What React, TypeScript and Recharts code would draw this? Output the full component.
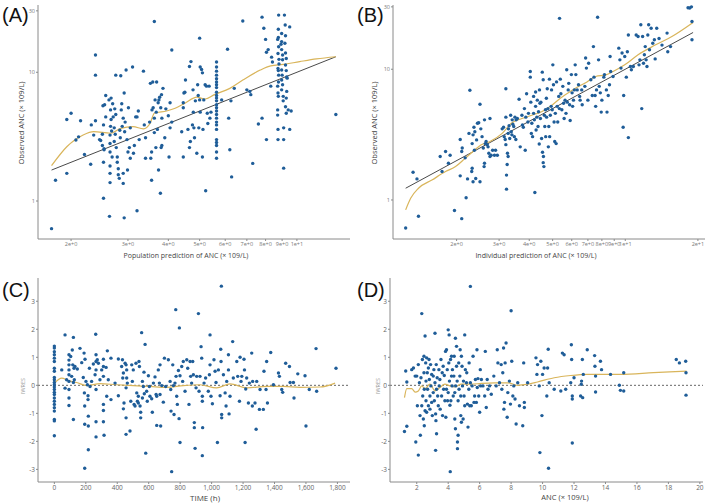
import React from "react";
import { ComposedChart, Scatter, Line, XAxis, YAxis, ReferenceLine } from "recharts";

// (A) population prediction vs observed ANC
const pointsA: [number, number][] = [
  [1.74, 0.61], [1.79, 1.45], [1.94, 1.64], [1.94, 4.3], [2.0, 4.8], [2.07, 2.98], [2.11, 3.15], [2.14, 4.2],
  [2.2, 2.3], [2.3, 1.93], [2.31, 3.9], [2.35, 3.25], [2.38, 4.2], [2.38, 13.6], [2.38, 9.5], [2.45, 3.0],
  [2.47, 2.95], [2.5, 3.3], [2.5, 2.7], [2.52, 2.0], [2.52, 3.9], [2.51, 5.5], [2.54, 5.6], [2.52, 1.05],
  [2.53, 2.5], [2.56, 6.6], [2.56, 4.5], [2.53, 2.55], [2.62, 6.1], [2.63, 0.76], [2.64, 1.87], [2.64, 1.64],
  [2.64, 1.39], [2.64, 3.25], [2.64, 2.8], [2.64, 2.4], [2.65, 3.8], [2.65, 5.1], [2.66, 6.3], [2.66, 4.3],
  [2.67, 3.5], [2.68, 2.2], [2.69, 5.7], [2.7, 4.5], [2.72, 3.7], [2.72, 2.9], [2.73, 5.2], [2.74, 3.3],
  [2.75, 9.5], [2.75, 4.7], [2.76, 2.6], [2.78, 2.2], [2.78, 2.0], [2.8, 1.78], [2.8, 1.6], [2.82, 1.5],
  [2.83, 3.55], [2.84, 3.1], [2.85, 9.4], [2.86, 5.1], [2.87, 5.7], [2.88, 3.8], [2.9, 4.4], [2.9, 1.64],
  [2.9, 1.37], [2.92, 0.74], [2.92, 6.9], [2.93, 3.45], [2.94, 4.1], [2.96, 10.4], [2.98, 3.0], [2.99, 1.74],
  [3.0, 2.4], [3.01, 5.3], [3.03, 2.6], [3.05, 2.15], [3.05, 3.7], [3.1, 11.0], [3.12, 2.35], [3.14, 2.7],
  [3.17, 4.5], [3.2, 4.5], [3.2, 0.84], [3.23, 5.0], [3.25, 3.0], [3.35, 10.2], [3.37, 3.9], [3.4, 3.1],
  [3.4, 2.15], [3.5, 4.1], [3.52, 8.2], [3.53, 2.15], [3.55, 1.45], [3.55, 2.4], [3.56, 5.1], [3.58, 8.4],
  [3.59, 5.3], [3.62, 24.8], [3.62, 4.4], [3.62, 3.4], [3.64, 6.1], [3.66, 2.6], [3.67, 4.9], [3.68, 8.4],
  [3.7, 3.6], [3.72, 5.8], [3.73, 1.74], [3.74, 6.1], [3.76, 6.4], [3.78, 1.15], [3.79, 5.3], [3.8, 2.6],
  [3.81, 6.7], [3.82, 2.7], [3.82, 4.4], [3.85, 7.5], [3.9, 3.1], [3.93, 5.2], [4.0, 4.6], [4.02, 2.2],
  [4.05, 5.8], [4.05, 3.7], [4.1, 14.9], [4.1, 4.1], [4.4, 3.45], [4.45, 5.8], [4.45, 2.2], [4.45, 5.3],
  [4.47, 6.9], [4.5, 7.0], [4.52, 8.7], [4.6, 3.6], [4.65, 2.6], [4.65, 11.1], [4.7, 12.1], [4.68, 2.9],
  [4.75, 3.9], [4.77, 7.3], [4.78, 4.9], [4.8, 3.7], [4.82, 3.1], [4.85, 6.0], [4.9, 2.35], [4.93, 8.0],
  [4.95, 6.6], [4.97, 3.7], [5.0, 18.4], [5.0, 6.1], [5.02, 11.0], [5.02, 4.9], [5.07, 10.5], [5.1, 9.9],
  [5.1, 2.2], [5.12, 3.6], [5.15, 6.1], [5.2, 8.0], [5.22, 1.2], [5.25, 7.8], [5.28, 4.8], [5.3, 4.0],
  [5.35, 7.8], [5.38, 4.4], [5.42, 4.9],
  [5.64, 12], [5.64, 11.0], [5.64, 10.2], [5.64, 9.5], [5.64, 8.9], [5.64, 8.4], [5.64, 8.0], [5.64, 7.6],
  [5.64, 7.0], [5.64, 6.6], [5.64, 6.3], [5.64, 6.0], [5.64, 5.6], [5.64, 5.3], [5.64, 5.0], [5.64, 4.7],
  [5.64, 4.4], [5.64, 4.1], [5.64, 3.9], [5.64, 3.6], [5.64, 3.0], [5.64, 2.85], [5.64, 2.7], [5.64, 2.4],
  [5.64, 2.15],
  [5.85, 6.1], [6.1, 15.1], [6.15, 4.4], [6.2, 2.5], [6.25, 6.0], [6.28, 1.54], [6.4, 7.5], [6.8, 25],
  [7.0, 7.3], [7.15, 7.1], [7.2, 6.7], [7.3, 1.96], [7.6, 3.96], [7.8, 26.8], [7.8, 4.4], [7.9, 22],
  [8.0, 18], [8.05, 3.0], [8.05, 14.3], [8.15, 15], [8.3, 7.8], [8.35, 13.1], [8.4, 12],
  [8.76, 21.6], [8.76, 18.6], [8.72, 18], [8.78, 15.8], [8.74, 14], [8.8, 12.6], [8.8, 11.6], [8.74, 10.7],
  [8.76, 10.3], [8.78, 9.5], [8.77, 8.4], [8.72, 7.8], [8.74, 6.9], [8.76, 6.5], [8.72, 5.1], [8.72, 4.65],
  [8.74, 3.6], [8.74, 3.0], [8.78, 27.8],
  [8.97, 20], [8.97, 17.3], [8.93, 16.5], [8.97, 15], [9.03, 13.6], [9.03, 12.5], [8.97, 10.4], [9.0, 9.5],
  [8.97, 8.7], [9.03, 8.0], [8.97, 7.3], [9.07, 6.5], [9.07, 6.0], [9.1, 3.7], [9.1, 3.0], [9.1, 1.8],
  [9.15, 27.8], [9.2, 23.3], [9.22, 19.2], [9.18, 16.8], [9.22, 14.1], [9.27, 12.8], [9.22, 11.4], [9.27, 10.3],
  [9.3, 9.2], [9.33, 9.0], [9.3, 7.1], [9.27, 6.3], [9.22, 5.4], [9.27, 4.8],
  [9.4, 5.1], [9.5, 22.5], [9.6, 5.0], [9.5, 3.6], [13.2, 4.7],
];
const smoothA: [number, number][] = [
  [1.74, 1.88], [1.94, 2.64], [2.18, 3.26], [2.35, 3.46], [2.65, 3.36], [2.85, 3.67], [3.11, 3.78],
  [3.35, 3.63], [3.51, 4.0], [3.62, 4.8], [3.95, 5.0], [4.2, 5.25], [4.5, 5.74], [4.9, 6.4], [5.2, 6.2],
  [5.55, 6.7], [6.2, 7.5], [6.8, 8.7], [7.7, 10.4], [8.3, 11.2], [9.07, 11.5], [10.2, 12.1], [11.5, 12.7],
  [13.2, 13.2],
];
const identityA: [number, number][] = [[1.74, 1.74], [13.2, 13.2]];

// (B) individual prediction vs observed ANC
const pointsB: [number, number][] = [
  [1.23, 0.61], [1.32, 1.63], [1.37, 1.45], [1.39, 0.75], [1.71, 2.15], [1.74, 1.65], [1.8, 2.35], [1.85, 1.91],
  [1.88, 2.2], [1.96, 0.83], [2.07, 2.9], [2.07, 1.53], [2.1, 0.72], [2.1, 2.35], [2.11, 2.5], [2.17, 2.1],
  [2.19, 1.04], [2.22, 1.45], [2.25, 3.23], [2.27, 6.9], [2.31, 1.65], [2.32, 2.7], [2.32, 1.75], [2.34, 1.38],
  [2.34, 3.15], [2.36, 3.6], [2.37, 2.4], [2.38, 3.33], [2.4, 1.46], [2.42, 2.88], [2.44, 3.86], [2.47, 3.9],
  [2.5, 5.4], [2.5, 1.38], [2.52, 3.5], [2.55, 3.05], [2.58, 2.5], [2.6, 1.8], [2.61, 1.91], [2.61, 4.1],
  [2.63, 2.7], [2.65, 2.8], [2.68, 2.65], [2.7, 2.55], [2.72, 2.28], [2.75, 4.2], [2.75, 2.15], [2.78, 2.2],
  [2.82, 2.4], [2.87, 2.2], [2.9, 2.4], [2.95, 2.2], [3.09, 3.5], [3.13, 3.6], [3.15, 3.05], [3.18, 2.9],
  [3.2, 7.1], [3.2, 2.65], [3.2, 4.3], [3.22, 1.55], [3.22, 1.21], [3.24, 1.87], [3.25, 2.28], [3.27, 2.15],
  [3.27, 3.23], [3.28, 3.5], [3.3, 3.7], [3.32, 2.95], [3.35, 4.45], [3.37, 3.33], [3.39, 3.15], [3.4, 4.1],
  [3.42, 3.8], [3.45, 3.65], [3.47, 3.05], [3.49, 4.3], [3.52, 2.9], [3.53, 4.1], [3.57, 4.2], [3.63, 5.9],
  [3.67, 2.55], [3.73, 4.45], [3.75, 3.75], [3.78, 3.6], [3.82, 5.0], [3.85, 2.4], [3.87, 4.3], [3.9, 6.5],
  [3.95, 3.95], [3.97, 4.6], [4.04, 8.7], [4.04, 9.6], [4.06, 5.6], [4.08, 3.23], [4.1, 3.86], [4.13, 3.05],
  [4.17, 6.2], [4.17, 4.6], [4.2, 4.1], [4.22, 1.14], [4.25, 6.7], [4.25, 5.2], [4.27, 3.43], [4.3, 4.3],
  [4.32, 5.8], [4.35, 3.65], [4.37, 4.73], [4.4, 2.68], [4.41, 6.95], [4.43, 5.5], [4.45, 4.2], [4.47, 5.6],
  [4.5, 2.95], [4.53, 9.5], [4.54, 2.32], [4.57, 8.3], [4.57, 1.93], [4.58, 2.15], [4.6, 1.8], [4.62, 4.45],
  [4.64, 3.65], [4.67, 4.9], [4.68, 3.05], [4.71, 6.0], [4.72, 4.3], [4.75, 7.1], [4.78, 5.0], [4.8, 2.55],
  [4.82, 3.65], [4.85, 8.4], [4.86, 3.05], [4.89, 4.45], [4.93, 5.2], [4.95, 6.95], [4.98, 4.9], [5.01, 10.8],
  [5.04, 7.6], [5.07, 3.95], [5.1, 2.8], [5.13, 4.6], [5.17, 2.7], [5.19, 8.0], [5.22, 5.2], [5.25, 3.95],
  [5.3, 6.2], [5.33, 5.0], [5.34, 24.5], [5.38, 8.4], [5.41, 6.5], [5.46, 4.9], [5.51, 7.4], [5.55, 5.5],
  [5.58, 4.2], [5.63, 5.8], [5.68, 4.6], [5.72, 9.9], [5.75, 5.6], [5.8, 6.95], [5.83, 7.8], [5.88, 5.35],
  [5.91, 4.05], [5.98, 9.1], [6.02, 6.6], [6.05, 5.2], [6.1, 5.8], [6.15, 6.95], [6.2, 10.8], [6.24, 9.1],
  [6.32, 6.95], [6.4, 7.6], [6.47, 6.2], [6.5, 5.8], [6.6, 6.95], [6.63, 5.35], [6.8, 7.4], [6.85, 12.2],
  [6.9, 10.2], [7.0, 5.8], [7.05, 11.1], [7.2, 8.3], [7.3, 6.3], [7.38, 14.9], [7.42, 8.7], [7.5, 6.3],
  [7.54, 5.2], [7.6, 6.95], [7.68, 25], [7.75, 11.8], [7.8, 7.4], [7.88, 6.6], [7.95, 4.7], [8.0, 5.8],
  [8.15, 8.7], [8.2, 9.1], [8.35, 6.95], [8.4, 4.7], [8.5, 6.3], [8.6, 7.6], [8.65, 12.5], [8.7, 9.6],
  [8.9, 8.8], [9.4, 14.5], [9.5, 11.8], [9.6, 10.2], [9.7, 13.3], [9.8, 3.6], [9.85, 6.3], [9.95, 12.5],
  [10.1, 8.7], [10.2, 13.6], [10.3, 18.3], [10.3, 3.0], [10.5, 10.5], [10.6, 9.9], [10.8, 10.5], [11.1, 18.3],
  [11.3, 17.8], [11.4, 10.8], [11.5, 11.8], [11.6, 21.9], [11.7, 5.0], [11.8, 17.8], [11.9, 11.1], [12.0, 12.9],
  [12.1, 14.9], [12.2, 11.8], [12.3, 10.5], [12.4, 18.3], [12.5, 21.9], [12.6, 14.1], [12.8, 20.6], [13.0, 15.8],
  [13.2, 16.8], [13.3, 12.0], [13.5, 20.6], [13.8, 17.2], [14.2, 15.3], [14.9, 18.9], [15.0, 13.6], [15.4, 14.9],
  [18.5, 29.4], [18.8, 30.0], [18.9, 23.2], [18.9, 16.8], [18.2, 29.5],
];
const smoothB: [number, number][] = [
  [1.23, 0.84], [1.29, 1.03], [1.39, 1.23], [1.58, 1.42], [1.8, 1.65], [1.98, 1.8], [2.17, 2.08], [2.37, 2.4],
  [2.52, 2.63], [2.75, 2.8], [3.09, 3.23], [3.37, 3.86], [3.73, 4.2], [4.1, 4.45], [4.5, 4.73], [4.93, 5.25],
  [5.38, 6.0], [6.05, 6.95], [6.94, 8.0], [7.54, 8.8], [8.3, 9.05], [8.9, 9.6], [9.95, 10.8], [11.3, 12.9],
  [13.3, 15.3], [15.6, 17.8], [19.1, 22.8],
];
const identityB: [number, number][] = [[1.23, 1.23], [19.1, 19.1]];

// (C) IWRES vs time
const pointsC: [number, number][] = [
  [0, 1.4], [0, 1.33], [0, 1.2], [0, 1.09], [0, 0.97], [0, 0.85], [0, 0.61], [0, 0.5], [0, 0.28], [0, 0.2],
  [0, 0.1], [0, 0.02], [0, -0.06], [0, -0.15], [0, -0.25], [0, -0.33], [0, -0.45], [0, -0.57], [0, -0.68],
  [0, -0.8], [0, -0.92], [0, -1.22], [0, -1.27], [0, -1.8],
  [47, 0.55], [68, 1.8], [68, -0.1], [78, 0.2], [93, 0.9], [93, 0.73], [93, 0.55], [93, 0.38], [93, 0.14],
  [93, -0.15], [93, -0.45], [93, -0.72], [93, 1.09], [104, 1.03], [110, 0.32], [114, 1.26], [117, 0.73],
  [121, 1.71], [121, 0.1], [121, -1.22], [125, 0.61], [127, 0.2], [131, 0.67], [146, 0.58], [163, 1.32],
  [174, 0.81], [184, 0.28], [189, 1.15], [191, -0.27], [193, -0.74], [193, -1.39], [193, -2.96], [195, 0.93],
  [201, 0.14], [210, 0.02], [214, -0.37], [214, -0.51], [216, -1.1], [216, -1.45], [216, -2.3], [223, 0.61],
  [227, -0.04], [237, 0.14], [248, 0.76], [259, 0.38], [263, 1.82], [265, 1.09], [265, 0.85], [265, 0.55],
  [265, -0.15], [265, -1.3], [265, -1.84], [273, 0.91], [280, 0.79], [290, 0.2], [301, 0.55], [312, 0.93],
  [312, 0.67], [312, 0.32], [312, -0.68], [312, -0.9], [312, -1.3], [316, -1.78], [329, 0.64], [333, -0.39],
  [337, 1.23], [343, 0.2], [360, -0.51], [360, 0.97], [386, 0.08], [407, 0.94], [407, -0.37], [428, 0.67],
  [433, 0.91], [435, 0.26], [439, 0.44], [439, -0.84], [443, -0.63], [450, 0.79], [456, 0.73], [456, -0.09],
  [456, -1.16], [456, -1.75], [460, 0.55], [460, 0.26], [464, 0.08], [481, -1.63], [486, -0.57], [492, 0.73],
  [496, 0.14], [502, 0.55], [507, -0.68], [513, -0.74], [519, 0.79], [524, -0.27], [528, -0.57], [534, -0.39],
  [534, -0.63], [538, 0.85], [541, 0.67], [545, -0.74], [549, -0.96], [549, -1.16], [555, 1.88], [560, 0.14],
  [560, -0.45], [566, -0.04], [570, 0.47], [572, -0.3], [577, 1.46], [581, -2.42], [587, -0.21], [591, -0.57],
  [598, 0.34], [604, -0.04], [608, -0.39], [619, -0.48], [623, -0.96], [630, 0.08], [640, 0.3], [647, -0.33],
  [651, -0.39], [651, -1.43], [661, 0.55], [668, 0.08], [672, 0.73], [672, -0.33], [676, -1.45], [683, -0.01],
  [693, -0.6], [700, 0.97], [708, -0.04], [725, 0.91], [736, 0.14], [740, -0.15], [742, -0.92], [746, -3.08],
  [753, 0.73], [757, -0.01], [761, -1.04], [767, 0.08], [772, 2.7], [774, 0.32], [778, -0.39], [782, -0.68],
  [789, 0.53], [793, -1.19], [795, 2.05], [799, -2.04], [799, 0.34], [810, 0.67], [816, 0.14], [820, 0.85],
  [831, -0.21], [842, 0.91], [848, 0.61], [856, -0.68], [863, 0.85], [867, 0.32], [873, 0.08], [880, 0.85],
  [884, 0.38], [890, -1.33], [890, -1.51], [895, -2.25], [901, -0.09], [905, 0.32], [916, 2.56], [920, -0.21],
  [926, 0.32], [933, 1.38], [937, 0.97], [941, -0.39], [941, -0.57], [941, -2.51], [943, -1.51], [952, 0.08],
  [962, 0.26], [979, -0.21], [986, 0.38], [990, 0.73], [990, 1.8], [996, -0.39], [1005, -0.66], [1015, 0.91],
  [1022, 0.5], [1028, 0.1], [1037, -2.04], [1043, 0.55], [1054, -0.37], [1058, 1.29], [1060, 0.85], [1062, 3.54],
  [1064, -1.04], [1064, -1.16], [1075, 0.38], [1086, -0.27], [1092, -0.74], [1096, 0.14], [1107, 0.55],
  [1107, 1.09], [1111, -1.02], [1117, -0.39], [1134, 1.56], [1138, 0.26], [1160, 0.85], [1166, 0.32],
  [1177, -0.57], [1181, 1.0], [1187, 0.14], [1192, 0.32], [1206, 0.93], [1209, 0.55], [1213, -2.04],
  [1217, -0.13], [1223, 0.26], [1234, -0.63], [1240, 0.08], [1255, 1.15], [1259, -0.74], [1261, 0.14],
  [1276, -0.63], [1283, -1.57], [1287, 0.14], [1304, -0.86], [1308, -0.15], [1329, -0.86], [1333, 0.5],
  [1346, -0.15], [1350, 0.85], [1355, -0.63], [1376, 1.17], [1393, 0.02], [1425, 0.44], [1431, 0.32],
  [1446, -0.15], [1452, -0.25], [1471, 0.79], [1495, 0.67], [1499, 0.1], [1520, 0.1], [1524, -0.45],
  [1548, 0.41], [1594, 0.34], [1600, -1.45], [1621, -0.15], [1664, 1.31], [1668, -0.21], [1791, 0.61],
];
const smoothC: [number, number][] = [
  [0, 0.08], [47, 0.26], [89, 0.17], [142, 0.1], [206, -0.01], [290, 0.06], [396, 0.02], [502, -0.01],
  [608, -0.04], [714, -0.07], [820, -0.01], [926, 0.02], [1032, -0.09], [1117, 0.05], [1223, -0.09],
  [1350, -0.04], [1456, -0.04], [1562, -0.07], [1690, -0.06], [1785, 0.08],
];

// (D) IWRES vs ANC
const pointsD: [number, number][] = [
  [1.22, -1.65], [1.3, 0.51], [1.37, -1.46], [1.37, 0.12], [1.68, 0.56], [1.79, 0.62], [1.9, 0.33], [1.94, -2.02],
  [2.0, 0.33], [2.04, -0.73], [2.1, -2.49], [2.1, 0.74], [2.17, 0.09], [2.21, -1.08], [2.23, -1.78], [2.27, 0.27],
  [2.32, 2.56], [2.32, -0.73], [2.36, 0.92], [2.38, -0.38], [2.42, -1.2], [2.46, 1.04], [2.46, 0.45], [2.48, -0.14],
  [2.48, -1.44], [2.53, 1.76], [2.53, -0.91], [2.57, 0.8], [2.59, 0.15], [2.59, -0.55], [2.63, 0.98], [2.63, -0.96],
  [2.67, 0.45], [2.69, -0.14], [2.74, 0.62], [2.74, -0.73], [2.78, 0.92], [2.8, 0.21], [2.84, -0.38], [2.84, -0.85],
  [2.88, 0.74], [2.9, -0.02], [2.95, 0.39], [2.95, -0.61], [2.99, -1.08], [3.05, 0.33], [3.05, -0.26], [3.09, 0.56],
  [3.12, -0.55], [3.16, 0.09], [3.16, 1.86], [3.2, -2.32], [3.2, -1.02], [3.22, -1.26], [3.24, 0.74], [3.26, -1.73],
  [3.26, -0.14], [3.3, 0.27], [3.33, -0.38], [3.37, -0.73], [3.41, 0.56], [3.43, -0.02], [3.47, 0.21], [3.49, -0.85],
  [3.54, 0.92], [3.58, -0.38], [3.62, 0.45], [3.64, -1.08], [3.68, 0.68], [3.71, -0.14], [3.75, 0.35], [3.79, -0.55],
  [3.83, 1.21], [3.85, -1.14], [3.89, 1.27], [3.89, -0.14], [3.94, 0.56], [3.96, -0.55], [4.0, 1.98], [4.0, -0.26],
  [4.04, 0.8], [4.06, 1.8], [4.08, 0.15], [4.11, -0.71], [4.13, -3.08], [4.15, 0.92], [4.17, -0.55], [4.21, 0.33],
  [4.21, 1.04], [4.25, -0.02], [4.27, 0.56], [4.32, -0.38], [4.36, 0.33], [4.38, 1.04], [4.42, -0.26], [4.42, -1.2],
  [4.46, -1.55], [4.46, 1.68], [4.48, -0.02], [4.53, 1.39], [4.53, 0.68], [4.57, 0.15], [4.59, -2.26], [4.59, -2.02],
  [4.63, -1.78], [4.63, -0.55], [4.67, 0.8], [4.69, -0.14], [4.74, 0.33], [4.76, 1.27], [4.8, -1.08], [4.8, -0.38],
  [4.84, -1.32], [4.84, 1.04], [4.88, 0.68], [4.91, -0.02], [4.95, -1.2], [4.97, 0.15], [5.01, -0.38], [5.05, 1.8],
  [5.05, -0.73], [5.09, 0.56], [5.16, 0.09], [5.18, 0.45], [5.22, -0.67], [5.26, -1.49], [5.31, -0.14], [5.33, 0.8],
  [5.37, -0.73], [5.41, 3.53], [5.41, 0.09], [5.47, -0.73], [5.52, -0.02], [5.58, 1.04], [5.64, -0.61], [5.68, -0.38],
  [5.73, 0.21], [5.79, -0.61], [5.83, 1.27], [5.85, -0.08], [5.89, 0.24], [5.94, -0.38], [6.0, -0.96], [6.04, 0.56],
  [6.06, -0.02], [6.11, 0.21], [6.21, -0.02], [6.32, -0.38], [6.36, 1.21], [6.42, -0.79], [6.48, 0.21], [6.53, -0.14],
  [6.63, -0.02], [6.74, -0.32], [6.9, 0.33], [7.05, -0.02], [7.12, 1.27], [7.16, 0.8], [7.26, 0.09], [7.37, 0.74],
  [7.41, -0.14], [7.47, 0.45], [7.52, 1.33], [7.54, -0.85], [7.58, -0.61], [7.62, 0.8], [7.68, 1.51], [7.75, -1.14],
  [7.79, -0.26], [7.89, 0.15], [7.96, -0.67], [8.0, 2.66], [8.04, 0.86], [8.11, -0.38], [8.17, -0.02], [8.25, -0.49],
  [8.32, -1.38], [8.42, 0.09], [8.53, -0.73], [8.74, -1.44], [8.8, 0.8], [8.84, -0.61], [8.84, -0.79], [9.05, 0.09],
  [9.58, 0.98], [9.64, 0.39], [9.68, 0.74], [9.79, -0.02], [9.83, -2.4], [9.89, 0.86], [9.96, -1.08], [10.0, 0.39],
  [10.1, 0.62], [10.27, -0.38], [10.32, 0.62], [10.36, 1.29], [10.38, -2.96], [10.42, 0.09], [10.74, -0.14],
  [11.16, -0.2], [11.26, 1.15], [11.37, 1.09], [11.47, -0.14], [11.79, 0.09], [11.83, 1.45], [11.85, 0.92],
  [11.89, -0.38], [11.89, -0.49], [11.89, -2.06], [12.0, 0.27], [12.42, -0.38], [12.46, 0.04], [12.48, 0.15],
  [12.53, 0.92], [12.55, -0.44], [12.59, 0.39], [12.84, 1.27], [13.31, 1.06], [13.33, 0.68], [13.37, -0.24],
  [13.37, 0.33], [13.68, 0.86], [13.75, 0.56], [14.32, 0.39], [14.88, 0.0], [14.95, -0.18], [15.16, -0.2],
  [15.16, 0.45], [18.5, 0.92], [18.7, 0.8], [19.1, 0.86], [19.12, 0.45], [19.12, -0.35],
];
const smoothD: [number, number][] = [
  [1.22, -0.44], [1.37, -0.12], [1.68, -0.12], [1.9, -0.24], [2.1, -0.2], [2.32, -0.02], [2.53, -0.12],
  [2.84, 0.04], [3.16, -0.2], [3.47, -0.08], [3.79, 0.04], [4.11, -0.02], [4.42, -0.06], [4.84, 0.04],
  [5.47, 0.04], [6.11, 0.07], [6.95, 0.09], [7.79, 0.09], [8.42, 0.0], [9.05, 0.04], [9.68, 0.12],
  [10.74, 0.27], [11.79, 0.35], [12.84, 0.39], [14.95, 0.39], [17.05, 0.45], [19.16, 0.51],
];

const sciTicksA = [2, 3, 4, 5, 6, 7, 8, 9, 10];
const sciTicksB = [2, 3, 4, 5, 6, 7, 8, 9, 10, 20];
const logTicksY = [1, 10, 30];
const timeTicks = [0, 200, 400, 600, 800, 1000, 1200, 1400, 1600, 1800];
const ancTicks = [2, 4, 6, 8, 10, 12, 14, 16, 18, 20];
const resTicks = [-3, -2, -1, 0, 1, 2, 3];

const toXY = (pts: [number, number][]) => pts.map(([x, y]) => ({ x, y }));

const sciLabel = (v: number) => {
  const e = Math.floor(Math.log10(v) + 1e-9);
  return `${Math.round(v / Math.pow(10, e))}e+${e}`;
};

const BLUE = "#1f5d98";
const GOLD = "#d9b55b";
const AXIS = "#8a8a8a";

const Dot = (p: any) => <circle cx={p.cx} cy={p.cy} r={1.7} fill={BLUE} />;

const tickSmall = { fontSize: 5.5, fill: "#777", fontFamily: "Open Sans" };
const tickMid = { fontSize: 6.5, fill: "#666", fontFamily: "Open Sans" };

const Letter = ({ text, left, top }: { text: string; left: number; top: number }) => (
  <div style={{ position: "absolute", left, top, fontFamily: "Liberation Sans", fontSize: 20, lineHeight: "20px", color: "#111" }}>
    {text}
  </div>
);

const Title = ({ text, cx, cy, size = 7, rotate = false, color = "#444" }: any) => (
  <div
    style={{
      position: "absolute",
      left: cx,
      top: cy,
      transform: `translate(-50%, -50%)${rotate ? " rotate(-90deg)" : ""}`,
      fontFamily: "Open Sans",
      fontSize: size,
      color,
      whiteSpace: "nowrap",
      lineHeight: 1,
    }}
  >
    {text}
  </div>
);

const LogPanel = ({ points, smooth, identity, xDomain, yDomain, xTicks, width, right }: any) => (
  <ComposedChart width={width} height={262} margin={{ top: 5, right, bottom: 0, left: 0 }}>
    <XAxis
      type="number"
      dataKey="x"
      scale="log"
      domain={xDomain}
      allowDataOverflow
      ticks={xTicks}
      tickFormatter={sciLabel}
      height={23}
      tick={tickSmall}
      tickSize={2}
      tickMargin={1}
      stroke={AXIS}
      interval={0}
    />
    <YAxis
      type="number"
      dataKey="y"
      scale="log"
      domain={yDomain}
      allowDataOverflow
      ticks={logTicksY}
      width={38}
      tick={tickSmall}
      tickSize={2}
      tickMargin={1}
      stroke={AXIS}
    />
    <Scatter data={toXY(points)} shape={Dot} isAnimationActive={false} />
    <Line data={toXY(identity)} dataKey="y" type="linear" stroke="#4a4a4a" strokeWidth={1} dot={false} isAnimationActive={false} />
    <Line data={toXY(smooth)} dataKey="y" type="monotone" stroke={GOLD} strokeWidth={1.2} dot={false} isAnimationActive={false} />
  </ComposedChart>
);

const ResPanel = ({ points, smooth, xDomain, xTicks, fmt, width, right, yWidth }: any) => (
  <ComposedChart width={width} height={241} margin={{ top: 16, right, bottom: 0, left: 0 }}>
    <XAxis
      type="number"
      dataKey="x"
      domain={xDomain}
      allowDataOverflow
      ticks={xTicks}
      tickFormatter={fmt}
      height={21}
      tick={tickMid}
      tickSize={2}
      tickMargin={1}
      stroke={AXIS}
      interval={0}
    />
    <YAxis
      type="number"
      dataKey="y"
      domain={[-3.45, 3.83]}
      allowDataOverflow
      ticks={resTicks}
      width={yWidth}
      tick={tickMid}
      tickSize={2}
      tickMargin={1}
      stroke={AXIS}
    />
    <ReferenceLine y={0} stroke="#666" strokeDasharray="2 2" />
    <Scatter data={toXY(points)} shape={Dot} isAnimationActive={false} />
    <Line data={toXY(smooth)} dataKey="y" type="monotone" stroke={GOLD} strokeWidth={1.2} dot={false} isAnimationActive={false} />
  </ComposedChart>
);

export default function App() {
  return (
    <div style={{ position: "absolute", left: 0, top: 0, width: 709, height: 503, background: "#fff", overflow: "hidden" }}>
      <div style={{ position: "absolute", left: 0, top: 0 }}>
        <LogPanel points={pointsA} smooth={smoothA} identity={identityA} xDomain={[1.58, 14.6]} yDomain={[0.507, 33.3]} xTicks={sciTicksA} width={355} right={5} />
      </div>
      <div style={{ position: "absolute", left: 355, top: 0 }}>
        <LogPanel points={pointsB} smooth={smoothB} identity={identityB} xDomain={[1.09, 21.4]} yDomain={[0.503, 31]} xTicks={sciTicksB} width={354} right={4} />
      </div>
      <div style={{ position: "absolute", left: 0, top: 262 }}>
        <ResPanel points={pointsC} smooth={smoothC} xDomain={[-104, 1880]} xTicks={timeTicks} fmt={(v: number) => v.toLocaleString("en-US")} width={355} right={5} yWidth={38} />
      </div>
      <div style={{ position: "absolute", left: 355, top: 262 }}>
        <ResPanel points={pointsD} smooth={smoothD} xDomain={[0.3, 20.2]} xTicks={ancTicks} fmt={(v: number) => String(v)} width={354} right={6} yWidth={35} />
      </div>

      <Letter text="(A)" left={2} top={5} />
      <Letter text="(B)" left={357} top={5} />
      <Letter text="(C)" left={2} top={280} />
      <Letter text="(D)" left={357} top={280} />

      <Title text="Observed ANC (× 109/L)" cx={22} cy={123} size={7.5} rotate />
      <Title text="Observed ANC (× 109/L)" cx={375} cy={123} size={7.5} rotate />
      <Title text="Population prediction of ANC (× 109/L)" cx={186} cy={255} size={7} />
      <Title text="Individual prediction of ANC (× 109/L)" cx={536} cy={255} size={7} />
      <Title text="IWRES" cx={24} cy={386} size={5.5} rotate color="#999" />
      <Title text="IWRES" cx={379} cy={386} size={5.5} rotate color="#999" />
      <Title text="TIME (h)" cx={205} cy={498} size={8} />
      <Title text="ANC (× 109/L)" cx={565} cy={498} size={7.5} />
    </div>
  );
}
